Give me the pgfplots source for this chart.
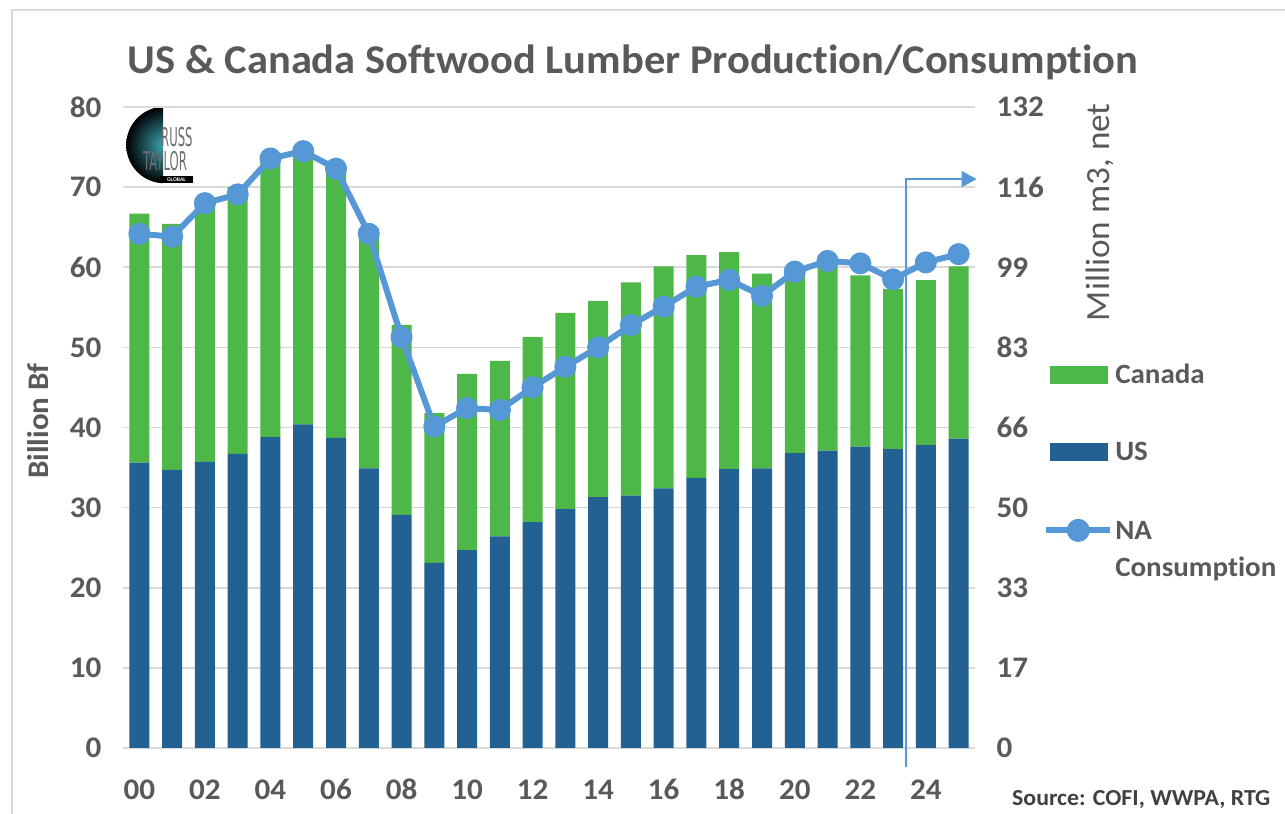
\documentclass[border=0pt]{standalone}
\usepackage{fontspec}
\setmainfont{Carlito}[FakeStretch=1.04, Ligatures=NoCommon]
\newfontfamily\logofont{DejaVu Sans}[FakeStretch=0.45]
\usepackage{pgfplots}
\usepackage{pgfplotstable}
\pgfplotsset{compat=1.18}
\usetikzlibrary{arrows.meta}
\definecolor{cgreen}{HTML}{4DB848}
\definecolor{cblue}{HTML}{226191}
\definecolor{cline}{HTML}{5697D6}
\definecolor{txt}{HTML}{595959}
\definecolor{gridc}{HTML}{D9D9D9}
\pgfplotstableread{
year us ca na
0 35.6 31.1 105.9
1 34.7 30.7 105.3
2 35.7 33.0 112.2
3 36.7 33.3 114.0
4 38.8 35.2 121.4
5 40.4 34.4 122.9
6 38.7 33.3 119.3
7 34.9 30.0 105.9
8 29.1 23.7 84.6
9 23.1 18.7 66.2
10 24.7 22.0 70.0
11 26.4 21.9 69.6
12 28.2 23.1 74.3
13 29.8 24.5 78.5
14 31.3 24.5 82.5
15 31.5 26.6 87.1
16 32.4 27.7 90.9
17 33.7 27.8 95.0
18 34.8 27.1 96.4
19 34.9 24.3 93.1
20 36.8 23.1 98.1
21 37.1 23.4 100.3
22 37.6 21.4 99.8
23 37.3 20.0 96.5
24 37.8 20.6 100.0
25 38.6 21.5 101.7
}\data
\begin{document}
\begin{tikzpicture}[x=1bp,y=1bp]
\useasboundingbox (-123,-66) rectangle (1162,748);
\draw[gridc, line width=1.5bp] (-111,-70) -- (-111,738) -- (1170,738);
% logo
\begin{scope}
\clip (0,560) rectangle (40,650);
\shade[inner color={rgb,255:red,60;green,170;blue,185}, outer color=black] (41.5,603) circle (38.3);
\end{scope}
\node[anchor=south west, inner sep=0pt, text={rgb,255:red,110;green,110;blue,110}, font=\logofont\fontsize{26}{27}\selectfont] at (38,601) {RUSS};
\node[anchor=south west, inner sep=0pt, text={rgb,255:red,110;green,110;blue,110}, font=\logofont\fontsize{26}{27}\selectfont] at (20,577) {TAYLOR};
\fill[black] (37,565) rectangle (70,572);
\node[inner sep=0pt, text=white, font=\bfseries\fontsize{5.5}{5.5}\selectfont] at (53.5,568.5) {GLOBAL};
\begin{axis}[
  at={(0,0)}, anchor=south west,
  scale only axis, width=852bp, height=641bp,
  xmin=-0.5, xmax=25.5, ymin=0, ymax=80,
  ybar stacked, bar width=20bp,
  clip=false,
  axis line style={draw=none},
  major tick length=0pt,
  ymajorgrids, grid style={gridc, line width=1.6bp},
  xtick={0,2,...,24},
  xticklabels={00,02,04,06,08,10,12,14,16,18,20,22,24},
  ytick={0,10,...,80},
  /pgf/number format/assume math mode=true,
  ticklabel style={font=\bfseries\fontsize{30}{36}\selectfont, text=txt},
  xticklabel style={anchor=base, yshift=-52bp},
  yticklabel style={anchor=east, xshift=-18bp},
  ylabel={Billion Bf},
  every axis y label/.style={at={(axis description cs:-0.0998,0.51)}, anchor=center, rotate=90, font=\bfseries\fontsize{30}{36}\selectfont, text=txt},
  title={US \& Canada Softwood Lumber Production/Consumption},
  title style={at={(axis description cs:0.5986,1.043)}, anchor=base, font=\bfseries\fontsize{41}{48}\selectfont, text=txt},
]
\addplot[fill=cblue, draw=none] table[x=year,y=us]{\data};
\addplot[fill=cgreen, draw=none] table[x=year,y=ca]{\data};
\draw[cline, line width=1.5bp, -{Triangle[length=15bp,width=16bp]}] (axis cs:23.4,-2.33) -- (axis cs:23.4,71) -- (axis cs:25.55,71);
\end{axis}
\begin{axis}[
  at={(0,0)}, anchor=south west,
  scale only axis, width=852bp, height=641bp,
  xmin=-0.5, xmax=25.5, ymin=0, ymax=132,
  axis x line=none, axis y line*=right,
  y axis line style={draw=none},
  major tick length=0pt,
  ytick={0,16.5,33,49.5,66,82.5,99,115.5,132},
  yticklabels={0,17,33,50,66,83,99,116,132},
  yticklabel style={anchor=west, xshift=18bp, font=\bfseries\fontsize{30}{36}\selectfont, text=txt},
  ylabel={Million m3, net},
  every axis y label/.style={at={(axis description cs:1.1467,0.836)}, anchor=center, rotate=90, font=\fontsize{34}{36}\selectfont, text=txt},
  legend style={draw=none, fill=none, at={(axis description cs:1.0801,0.599)}, anchor=north west,
    inner sep=0pt, outer sep=0pt, nodes={inner sep=0pt}, column sep=2bp, row sep=57bp,
    cells={anchor=base west}, font=\bfseries\fontsize{28}{34}\selectfont, text=txt},
]
\addlegendimage{legend image code/.code={\fill[cgreen] (0bp,0.5bp) rectangle (57bp,17.5bp);}}
\addlegendentry{Canada}
\addlegendimage{legend image code/.code={\fill[cblue] (0bp,0.5bp) rectangle (57bp,17.5bp);}}
\addlegendentry{US}
\addplot[cline, line width=6bp, line join=round, mark=*, mark size=8bp, mark options={fill=cline, draw=none},
  legend image code/.code={\draw[cline, line width=6bp] (-3.5bp,9bp) -- (60.5bp,9bp); \fill[cline] (28.5bp,9bp) circle (8.5bp);}]
  table[x=year,y=na]{\data};
\addlegendentry{\vtop{\baselineskip=37bp\hbox{NA}\hbox{Consumption}}}
\end{axis}
\node[anchor=west, inner sep=0pt, font=\bfseries\fontsize{23}{26}\selectfont, text={rgb,255:red,64;green,64;blue,64}] at (889,-52) {Source: COFI, WWPA, RTG};
\end{tikzpicture}
\end{document}
